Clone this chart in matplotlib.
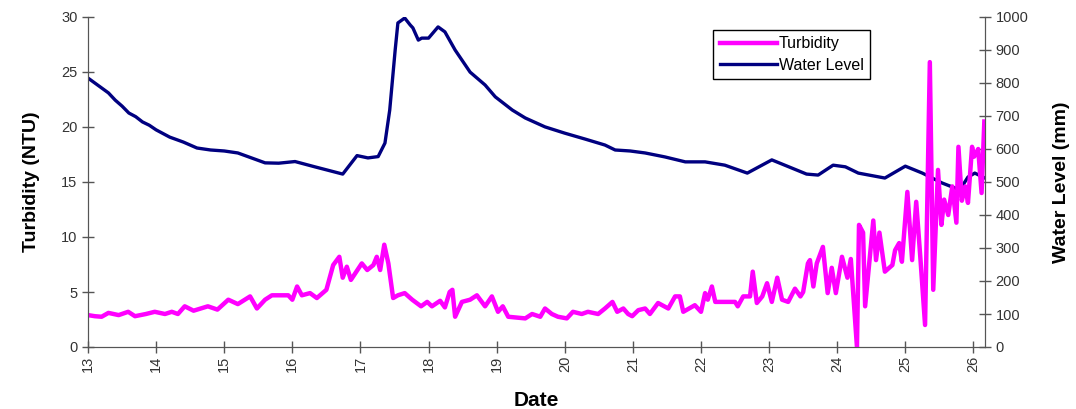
import numpy as np
import matplotlib.pyplot as plt

plt.rcParams['font.family'] = ['Liberation Sans', 'DejaVu Sans']

# day of month
lvl_day = [13.0, 13.1, 13.2, 13.3, 13.4, 13.5, 13.6, 13.7, 13.8, 13.9, 14.0, 14.2, 14.4, 14.6,
           14.8, 15.0, 15.2, 15.4, 15.6, 15.8, 16.04, 16.33, 16.74, 16.95, 17.11, 17.26, 17.36,
           17.43, 17.51, 17.55, 17.65, 17.73, 17.77, 17.85, 17.9, 18.0, 18.14, 18.24, 18.39,
           18.61, 18.83, 18.98, 19.23, 19.42, 19.71, 20.0, 20.3, 20.59, 20.74, 20.96, 21.18,
           21.47, 21.77, 22.06, 22.35, 22.68, 23.04, 23.23, 23.55, 23.72, 23.94, 24.12, 24.31,
           24.7, 25.0, 25.25, 25.54, 25.8, 25.92, 26.02, 26.17]
water_level = [815, 800, 785, 770, 748, 730, 709, 698, 682, 672, 658, 636, 621, 603,
               597, 594, 588, 573, 558, 557, 562, 546, 524, 580, 573, 577, 618,
               718, 900, 982, 997, 976, 967, 930, 936, 936, 970, 955, 900,
               833, 794, 758, 718, 694, 667, 648, 630, 612, 597, 594, 588,
               576, 561, 561, 551, 527, 567, 551, 524, 521, 551, 546, 527,
               512, 548, 527, 497, 476, 515, 527, 512]

turb_day = [13.0, 13.1, 13.2, 13.3, 13.45, 13.59, 13.69, 13.85, 13.98, 14.13, 14.23, 14.32,
            14.42, 14.55, 14.76, 14.9, 15.06, 15.2, 15.38, 15.48, 15.6, 15.7, 15.94, 16.0,
            16.07, 16.14, 16.26, 16.36, 16.5, 16.6, 16.69, 16.74, 16.8, 16.86, 17.02, 17.1,
            17.19, 17.24, 17.29, 17.35, 17.41, 17.48, 17.55, 17.65, 17.76, 17.89, 17.98, 18.05,
            18.17, 18.24, 18.31, 18.35, 18.39, 18.49, 18.61, 18.71, 18.83, 18.93, 19.02, 19.09,
            19.17, 19.42, 19.52, 19.64, 19.71, 19.81, 19.9, 20.03, 20.12, 20.25, 20.34, 20.49,
            20.59, 20.7, 20.77, 20.86, 20.93, 20.99, 21.08, 21.18, 21.25, 21.37, 21.52, 21.62,
            21.69, 21.74, 21.91, 22.0, 22.06, 22.1, 22.16, 22.21, 22.5, 22.54, 22.62, 22.72,
            22.76, 22.82, 22.9, 22.97, 23.04, 23.12, 23.19, 23.28, 23.38, 23.46, 23.5, 23.57,
            23.6, 23.65, 23.7, 23.79, 23.86, 23.92, 23.98, 24.07, 24.15, 24.2, 24.29, 24.32,
            24.38, 24.41, 24.53, 24.57, 24.62, 24.7, 24.81, 24.85, 24.91, 24.95, 25.03, 25.1,
            25.16, 25.22, 25.29, 25.36, 25.41, 25.48, 25.53, 25.57, 25.63, 25.69, 25.75, 25.78,
            25.83, 25.88, 25.92, 25.98, 26.01, 26.07, 26.12, 26.16]
turbidity = [2.9, 2.8, 2.75, 3.1, 2.9, 3.2, 2.8, 3.0, 3.2, 3.0, 3.2, 3.0,
             3.7, 3.3, 3.7, 3.4, 4.3, 3.9, 4.6, 3.5, 4.3, 4.7, 4.7, 4.3,
             5.5, 4.7, 4.9, 4.45, 5.2, 7.45, 8.2, 6.3, 7.3, 6.1, 7.6, 7.0,
             7.45, 8.2, 7.0, 9.3, 7.6, 4.45, 4.7, 4.9, 4.3, 3.7, 4.1, 3.7,
             4.2, 3.6, 5.0, 5.2, 2.75, 4.1, 4.3, 4.7, 3.7, 4.6, 3.2, 3.7,
             2.75, 2.6, 3.0, 2.75, 3.5, 3.0, 2.75, 2.6, 3.2, 3.0, 3.2, 3.0,
             3.5, 4.1, 3.2, 3.5, 3.0, 2.8, 3.35, 3.5, 3.0, 4.0, 3.5, 4.6,
             4.6, 3.2, 3.8, 3.2, 4.9, 4.3, 5.5, 4.1, 4.1, 3.7, 4.6, 4.6,
             6.85, 4.0, 4.6, 5.8, 4.1, 6.3, 4.3, 4.1, 5.3, 4.6, 5.0, 7.6,
             7.9, 5.5, 7.6, 9.1, 4.9, 7.2, 4.9, 8.2, 6.3, 8.0, 0.0, 11.1,
             10.4, 3.7, 11.5, 7.9, 10.4, 6.85, 7.45, 8.8, 9.45, 7.75, 14.1, 7.9,
             13.2, 8.2, 2.0, 25.9, 5.2, 16.1, 11.1, 13.4, 12.0, 14.6, 11.3, 18.2,
             13.3, 14.6, 13.1, 18.2, 17.3, 18.0, 14.0, 20.5]

x_ticks = list(range(13, 27))

fig = plt.figure(figsize=(10.76, 4.09), dpi=100)
ax = fig.add_axes([88 / 1076, 62 / 409, 897 / 1076, 330 / 409])
ax2 = ax.twinx()

l1, = ax.plot(turb_day, turbidity, color="#FF00FF", lw=3.2, label="Turbidity")
l2, = ax2.plot(lvl_day, water_level, color="#000080", lw=2.4, label="Water Level")
ax.set_zorder(ax2.get_zorder() + 1)
ax.patch.set_visible(False)

ax.set_xlim(13, 26.17)
ax.set_ylim(0, 30)
ax2.set_ylim(0, 1000)
ax.set_yticks(range(0, 31, 5))
ax2.set_yticks(range(0, 1001, 100))
ax.set_xticks(x_ticks)
ax.set_xticklabels([str(d) for d in x_ticks], rotation=90)

for a in (ax, ax2):
    for s in a.spines.values():
        s.set_color("#555555")
    a.spines["top"].set_visible(False)
    a.tick_params(direction="inout", length=8, width=1, colors="#555555",
                  labelcolor="#333333", labelsize=10.5)
ax.tick_params(axis="x", pad=2)

ax.set_ylabel("Turbidity (NTU)", fontsize=14, fontweight="bold", labelpad=15)
ax2.set_ylabel("Water Level (mm)", fontsize=14, fontweight="bold", labelpad=18)
ax.set_xlabel("Date", fontsize=15, fontweight="bold", labelpad=14)

leg = ax.legend([l1, l2], ["Turbidity", "Water Level"], loc="upper left",
                bbox_to_anchor=(0.688, 0.985), fontsize=11.5, fancybox=False,
                framealpha=1, edgecolor="black", handlelength=3.6, handletextpad=0.1,
                borderpad=0.4, labelspacing=0.4)
leg.get_frame().set_linewidth(1)

fig.savefig("out.png", dpi=100)
